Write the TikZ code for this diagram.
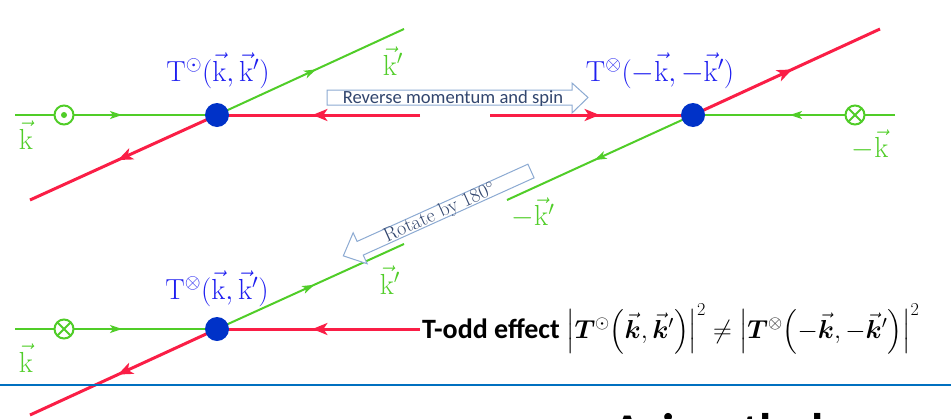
\RequirePackage{fix-cm}
\documentclass[tikz,border=0pt]{standalone}
\usepackage{amsmath}
\usepackage{bm}
\usepackage{fontspec}
\newfontfamily\carlito{Carlito}
\usetikzlibrary{arrows.meta,decorations.markings}
\definecolor{gr}{RGB}{80,205,40}
\definecolor{rd}{RGB}{250,30,70}
\definecolor{dotblue}{RGB}{0,50,200}
\definecolor{lblue}{RGB}{30,30,240}
\definecolor{txtgray}{RGB}{50,70,110}
\definecolor{boxedge}{RGB}{140,170,210}
\definecolor{rulecol}{RGB}{0,112,192}
\tikzset{
  gline/.style={draw=gr, line width=2pt},
  rline/.style={draw=rd, line width=3pt},
  gmid/.style={postaction={decorate,decoration={markings,mark=at position #1 with {\arrow[gr]{Stealth[length=12pt,width=8pt,inset=3pt]}}}}},
  rmid/.style={postaction={decorate,decoration={markings,mark=at position #1 with {\arrow[rd]{Stealth[length=15pt,width=12pt,inset=4pt]}}}}},
  vdot/.style={circle, fill=dotblue, minimum size=24pt, inner sep=0pt},
  sym/.style={circle, draw=gr, line width=2pt, fill=white, minimum size=19pt, inner sep=0pt},
  odotsym/.style={sym, path picture={\fill[gr] (path picture bounding box.center) circle (3pt);}},
  otimessym/.style={sym, path picture={\draw[gr,line width=1.8pt] (path picture bounding box.north west) -- (path picture bounding box.south east) (path picture bounding box.north east) -- (path picture bounding box.south west);}},
  tlabel/.style={text=lblue, font=\fontsize{29}{32}\selectfont, inner sep=0pt},
  klabel/.style={text=gr, font=\fontsize{29}{32}\selectfont, inner sep=0pt},
  hollowarrow/.style={draw=boxedge, line width=1pt, fill=white},
}
\begin{document}
\begin{tikzpicture}[x=1pt,y=-1pt]
\useasboundingbox (0,0) rectangle (951,418);
\clip (0,0) rectangle (951,418);
% ---------- top-left vertex ----------
\coordinate (A) at (217,115);
\coordinate (Ain) at (15,115);
\coordinate (Aout) at (404,29);
\coordinate (Arin) at (420,115);
\coordinate (Arout) at (30,200);
\draw[gline,gmid=0.53] (Ain) -- (A);
\draw[gline,gmid=0.53] (A) -- (Aout);
\draw[rline,rmid=0.53] (Arin) -- (A);
\draw[rline,rmid=0.53] (A) -- (Arout);
\node[odotsym] (sA) at (64,115) {};
\node[vdot] (dA) at (A) {};
\node[tlabel, anchor=base] (LA) at (218,81) {$\mathrm{T}^{\odot}(\vec{\mathrm{k}},\vec{\mathrm{k}}')$};
\node[klabel] (kA) at (26,135) {$\vec{\mathrm{k}}$};
\node[klabel] (kpA) at (393,61) {$\vec{\mathrm{k}}'$};
% ---------- top-right vertex ----------
\coordinate (B) at (693,115);
\coordinate (Brin) at (490,115);
\coordinate (Brout) at (880,29);
\coordinate (Bin) at (895,115);
\coordinate (Bout) at (507,200);
\draw[rline,rmid=0.54] (Brin) -- (B);
\draw[rline,rmid=0.53] (B) -- (Brout);
\draw[gline,gmid=0.52] (Bin) -- (B);
\draw[gline,gmid=0.53] (B) -- (Bout);
\node[otimessym] (sB) at (855,115) {};
\node[vdot] (dB) at (B) {};
\node[tlabel, anchor=base] (LB) at (660,81) {$\mathrm{T}^{\otimes}(-\vec{\mathrm{k}},-\vec{\mathrm{k}}')$};
\node[klabel] (kB) at (870,145) {$-\vec{\mathrm{k}}$};
\node[klabel] (kpB) at (533,213) {$-\vec{\mathrm{k}}'$};
% ---------- bottom vertex ----------
\coordinate (C) at (217,329);
\coordinate (Cin) at (15,329);
\coordinate (Cout) at (404,244);
\coordinate (Crin) at (420,329);
\coordinate (Crout) at (30,415);
\draw[gline,gmid=0.53] (Cin) -- (C);
\draw[gline,gmid=0.52] (C) -- (Cout);
\draw[rline,rmid=0.53] (Crin) -- (C);
\draw[rline,rmid=0.53] (C) -- (Crout);
\node[otimessym] (sC) at (64,329) {};
\node[vdot] (dC) at (C) {};
\node[tlabel, anchor=base] (LC) at (217,299) {$\mathrm{T}^{\otimes}(\vec{\mathrm{k}},\vec{\mathrm{k}}')$};
\node[klabel] (kC) at (26,358) {$\vec{\mathrm{k}}$};
\node[klabel] (kpC) at (390,280) {$\vec{\mathrm{k}}'$};
% ---------- reverse arrow ----------
\draw[hollowarrow] (327,90) -- (572,90) -- (572,83) -- (588,97.5) -- (572,113) -- (572,105) -- (327,105) -- cycle;
\node[anchor=base, text=txtgray, font=\fontsize{18.6}{20}\selectfont\carlito, inner sep=0pt] (rev) at (453,103) {Reverse momentum and spin};
% ---------- rotate arrow ----------
\begin{scope}[shift={(531,171)}, rotate=204.33]
\draw[hollowarrow] (0,-7.5) -- (187.5,-7.5) -- (187.5,-17) -- (206,0) -- (187.5,17) -- (187.5,7.5) -- (0,7.5) -- cycle;
\end{scope}
\node[text=txtgray, font=\fontsize{20}{22}\selectfont, rotate=24.33, inner sep=0pt] (rot) at (440,213) {Rotate by 180$^{\circ}$};
% ---------- T-odd formula ----------
\node[anchor=base west, font=\fontsize{28}{30}\selectfont\carlito\bfseries, inner sep=0pt] (todd) at (422,338) {T-odd effect {\fontsize{26}{30}\selectfont$\Bigl|\bm{T}^{\odot}\Bigl(\vec{\bm{k}},\vec{\bm{k}}'\Bigr)\Bigr|^2 \neq \Bigl|\bm{T}^{\otimes}\Bigl(-\vec{\bm{k}},-\vec{\bm{k}}'\Bigr)\Bigr|^2$}};
% ---------- rule and cut heading ----------
\coordinate (ruleL) at (0,385);
\coordinate (ruleR) at (951,385);
\draw[draw=rulecol, line width=2pt] (ruleL) -- (ruleR);
\node[anchor=base west, font=\fontsize{50}{60}\selectfont\carlito\bfseries, inner sep=0pt] (az) at (612,448) {Azimuthal};
\end{tikzpicture}
\end{document}
